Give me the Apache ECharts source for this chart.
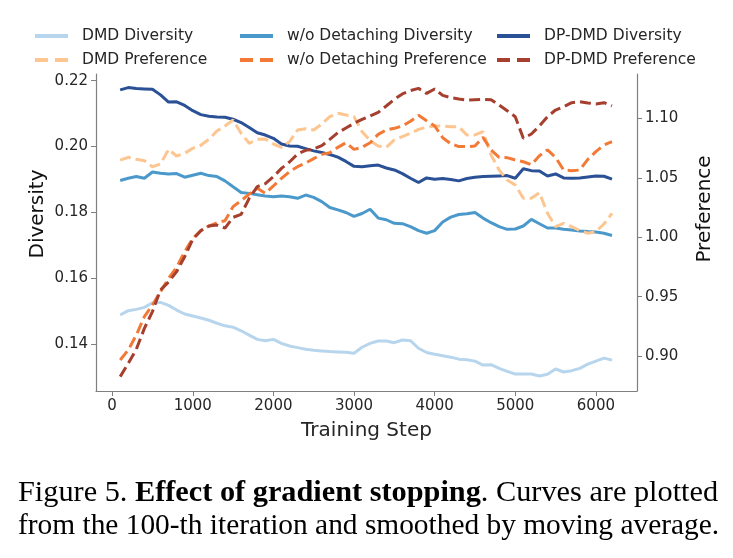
<!DOCTYPE html>
<html>
<head>
<meta charset="utf-8">
<script src="https://cdn.jsdelivr.net/npm/echarts@6/dist/echarts.min.js"></script>
<style>
  html, body { margin: 0; padding: 0; background: #fff; }
  #chart { width: 733px; height: 558px; }
</style>
</head>
<body>
<div id="chart"></div>
<script type="text/javascript">
// training steps (x)
var steps = [100, 200, 300, 400, 500, 600, 700, 800, 900, 1000,
  1100, 1200, 1300, 1400, 1500, 1600, 1700, 1800, 1900, 2000,
  2100, 2200, 2300, 2400, 2500, 2600, 2700, 2800, 2900, 3000,
  3100, 3200, 3300, 3400, 3500, 3600, 3700, 3800, 3900, 4000,
  4100, 4200, 4300, 4400, 4500, 4600, 4700, 4800, 4900, 5000,
  5100, 5200, 5300, 5400, 5500, 5600, 5700, 5800, 5900, 6000,
  6100, 6200];

// diversity (left axis)
var dmdDiv = [0.1489, 0.1502, 0.1506, 0.1512, 0.1526, 0.1527, 0.1518, 0.1504, 0.1492, 0.1486,
  0.1480, 0.1473, 0.1464, 0.1456, 0.1452, 0.1441, 0.1428, 0.1415, 0.1411, 0.1415,
  0.1403, 0.1395, 0.1390, 0.1385, 0.1382, 0.1380, 0.1378, 0.1377, 0.1376, 0.1373,
  0.1391, 0.1403, 0.1410, 0.1410, 0.1405, 0.1413, 0.1411, 0.1388, 0.1375, 0.1370,
  0.1365, 0.1361, 0.1355, 0.1353, 0.1349, 0.1337, 0.1338, 0.1327, 0.1318, 0.1310,
  0.1310, 0.1310, 0.1304, 0.1309, 0.1325, 0.1316, 0.1320, 0.1327, 0.1340, 0.1349,
  0.1358, 0.1352];
var woDiv = [0.1897, 0.1904, 0.1909, 0.1904, 0.1923, 0.1919, 0.1917, 0.1918, 0.1907, 0.1913,
  0.1919, 0.1912, 0.1909, 0.1896, 0.1878, 0.1861, 0.1858, 0.1854, 0.1850, 0.1848,
  0.1850, 0.1848, 0.1843, 0.1853, 0.1846, 0.1833, 0.1815, 0.1808, 0.1800, 0.1788,
  0.1797, 0.1810, 0.1783, 0.1778, 0.1767, 0.1766, 0.1757, 0.1745, 0.1737, 0.1745,
  0.1771, 0.1786, 0.1794, 0.1796, 0.1800, 0.1783, 0.1769, 0.1757, 0.1749, 0.1750,
  0.1759, 0.1779, 0.1766, 0.1753, 0.1753, 0.1749, 0.1747, 0.1744, 0.1742, 0.1741,
  0.1737, 0.1730];
var dpDiv = [0.2172, 0.2179, 0.2176, 0.2175, 0.2174, 0.2157, 0.2135, 0.2136, 0.2125, 0.2109,
  0.2097, 0.2092, 0.2090, 0.2089, 0.2083, 0.2073, 0.2058, 0.2042, 0.2035, 0.2025,
  0.2008, 0.2002, 0.2001, 0.1994, 0.1987, 0.1982, 0.1976, 0.1968, 0.1955, 0.1940,
  0.1939, 0.1942, 0.1944, 0.1935, 0.1929, 0.1918, 0.1904, 0.1891, 0.1905, 0.1901,
  0.1903, 0.1900, 0.1896, 0.1903, 0.1907, 0.1909, 0.1910, 0.1911, 0.1912, 0.1904,
  0.1933, 0.1927, 0.1926, 0.1911, 0.1917, 0.1905, 0.1904, 0.1905, 0.1908, 0.1911,
  0.1910, 0.1901];

// preference (right axis)
var dmdPref = [1.0649, 1.0672, 1.0655, 1.0644, 1.0593, 1.0616, 1.0739, 1.0683, 1.0706, 1.0748,
  1.0773, 1.0823, 1.0893, 1.0936, 1.0986, 1.0874, 1.0790, 1.0823, 1.0826, 1.0784,
  1.0756, 1.0804, 1.0902, 1.0913, 1.0902, 1.0952, 1.1014, 1.1042, 1.1028, 1.1014,
  1.0888, 1.0812, 1.0767, 1.0756, 1.0818, 1.0846, 1.0874, 1.0907, 1.0924, 1.0936,
  1.0936, 1.0930, 1.0930, 1.0860, 1.0860, 1.0888, 1.0692, 1.0565, 1.0481, 1.0439,
  1.0327, 1.0327, 1.0375, 1.0201, 1.0089, 1.0117, 1.0089, 1.0055, 1.0033, 1.0047,
  1.0111, 1.0201];
var woPref = [0.8967, 0.9051, 0.9177, 0.9331, 0.9430, 0.9542, 0.9654, 0.9747, 0.9878, 0.9990,
  1.0055, 1.0094, 1.0122, 1.0139, 1.0257, 1.0307, 1.0363, 1.0411, 1.0369, 1.0431,
  1.0495, 1.0551, 1.0593, 1.0624, 1.0661, 1.0697, 1.0711, 1.0756, 1.0795, 1.0739,
  1.0756, 1.0795, 1.0865, 1.0902, 1.0916, 1.0936, 1.0975, 1.1025, 1.0980, 1.0936,
  1.0837, 1.0787, 1.0762, 1.0762, 1.0767, 1.0840, 1.0734, 1.0672, 1.0669, 1.0649,
  1.0635, 1.0610, 1.0686, 1.0734, 1.0672, 1.0565, 1.0560, 1.0565, 1.0655, 1.0720,
  1.0776, 1.0804];
var dpPref = [0.8827, 0.8939, 0.9057, 0.9233, 0.9374, 0.9556, 0.9623, 0.9710, 0.9836, 0.9982,
  1.0055, 1.0094, 1.0102, 1.0077, 1.0167, 1.0192, 1.0327, 1.0425, 1.0450, 1.0509,
  1.0579, 1.0633, 1.0700, 1.0731, 1.0742, 1.0770, 1.0823, 1.0879, 1.0919, 1.0958,
  1.0992, 1.1020, 1.1050, 1.1104, 1.1160, 1.1205, 1.1233, 1.1252, 1.1210, 1.1247,
  1.1193, 1.1174, 1.1163, 1.1154, 1.1157, 1.1160, 1.1157, 1.1112, 1.1064, 1.1014,
  1.0832, 1.0868, 1.0936, 1.1014, 1.1070, 1.1098, 1.1132, 1.1140, 1.1129, 1.1121,
  1.1132, 1.1104];

// tick labels
var xTicks = [0, 1000, 2000, 3000, 4000, 5000, 6000];
var divTicks = [0.14, 0.16, 0.18, 0.20, 0.22];
var prefTicks = [0.90, 0.95, 1.00, 1.05, 1.10];

function pairs(ys) {
  return steps.map(function (s, i) { return [s, ys[i]]; });
}

var font = 'DejaVu Sans';
var axisGray = '#7f7f7f';
var dash = [11, 5];
var solidIcon = 'path://M0,0 H33 V4 H0 Z';
var dashIcon = 'path://M0,0 H13 V4 H0 Z M20,0 H33 V4 H20 Z';

function line(name, data, color, yIdx, dashed) {
  return {
    name: name,
    type: 'line',
    yAxisIndex: yIdx,
    data: pairs(data),
    showSymbol: false,
    symbol: 'none',
    lineStyle: { color: color, width: 3, type: dashed ? dash : 'solid' },
    itemStyle: { color: color },
    z: 2
  };
}

var myChart = echarts.init(document.getElementById('chart'));

function legendCol(left, names) {
  return {
    orient: 'vertical',
    left: left,
    top: 28,
    padding: 0,
    itemWidth: 33,
    itemHeight: 4,
    itemGap: 8,
    data: [{ name: names[0], icon: solidIcon }, { name: names[1], icon: dashIcon }],
    textStyle: { fontFamily: font, fontSize: 15.5, color: '#262626', padding: [0, 0, 0, 9] }
  };
}

var option = {
  backgroundColor: '#ffffff',
  animation: false,
  legend: [
    legendCol(35, ['DMD Diversity', 'DMD Preference']),
    legendCol(240, ['w/o Detaching Diversity', 'w/o Detaching Preference']),
    legendCol(497, ['DP-DMD Diversity', 'DP-DMD Preference'])
  ],
  grid: { left: 96, right: 96, top: 74, bottom: 167 },
  xAxis: {
    type: 'value',
    min: -200,
    max: 6510,
    splitLine: { show: false },
    axisLine: { onZero: false, lineStyle: { color: axisGray, width: 1.2 } },
    axisTick: { customValues: xTicks, length: 5, lineStyle: { color: axisGray } },
    axisLabel: {
      customValues: xTicks, fontFamily: font, fontSize: 15, color: '#262626', margin: 8,
      formatter: function (v) { return String(v); }
    },
    name: 'Training Step',
    nameLocation: 'middle',
    nameGap: 30,
    nameTextStyle: { fontFamily: font, fontSize: 20, color: '#262626' }
  },
  yAxis: [{
    type: 'value',
    min: 0.12583,
    max: 0.22203,
    position: 'left',
    splitLine: { show: false },
    axisLine: { show: true, onZero: false, lineStyle: { color: axisGray, width: 1.2 } },
    axisTick: { show: true, customValues: divTicks, length: 5, lineStyle: { color: axisGray } },
    axisLabel: {
      customValues: divTicks, fontFamily: font, fontSize: 15, color: '#262626', margin: 8,
      formatter: function (v) { return v.toFixed(2); }
    }
  }, {
    type: 'value',
    min: 0.8706,
    max: 1.1373,
    position: 'right',
    splitLine: { show: false },
    axisLine: { show: true, onZero: false, lineStyle: { color: axisGray, width: 1.2 } },
    axisTick: { show: true, customValues: prefTicks, length: 5, lineStyle: { color: axisGray } },
    axisLabel: {
      customValues: prefTicks, fontFamily: font, fontSize: 15, color: '#262626', margin: 8,
      formatter: function (v) { return v.toFixed(2); }
    }
  }],
  graphic: [
    {
      type: 'text', x: 38, y: 214, rotation: Math.PI / 2,
      style: { text: 'Diversity', fontFamily: font, fontSize: 20, fill: '#111', align: 'center', verticalAlign: 'middle' }
    },
    {
      type: 'text', x: 705, y: 209, rotation: Math.PI / 2,
      style: { text: 'Preference', fontFamily: font, fontSize: 20, fill: '#111', align: 'center', verticalAlign: 'middle' }
    },
    {
      type: 'text', x: 18, y: 493,
      style: {
        text: '{n|Figure 5. }{b|Effect of gradient stopping}{n|. Curves are plotted}',
        verticalAlign: 'middle',
        rich: {
          n: { fontFamily: 'Liberation Serif', fontSize: 30.3, fill: '#000' },
          b: { fontFamily: 'Liberation Serif', fontSize: 30.3, fontWeight: 'bold', fill: '#000' }
        }
      }
    },
    {
      type: 'text', x: 18, y: 526,
      style: {
        text: 'from the 100-th iteration and smoothed by moving average.',
        verticalAlign: 'middle',
        fontFamily: 'Liberation Serif', fontSize: 29.4, fill: '#000'
      }
    }
  ],
  series: [
    line('DMD Diversity', dmdDiv, '#b7d5ec', 0, false),
    line('w/o Detaching Diversity', woDiv, '#4b99cb', 0, false),
    line('DP-DMD Diversity', dpDiv, '#2a5095', 0, false),
    line('DMD Preference', dmdPref, '#fdc590', 1, true),
    line('w/o Detaching Preference', woPref, '#f27a36', 1, true),
    line('DP-DMD Preference', dpPref, '#a63f2e', 1, true)
  ]
};
myChart.setOption(option);
</script>
</body>
</html>
